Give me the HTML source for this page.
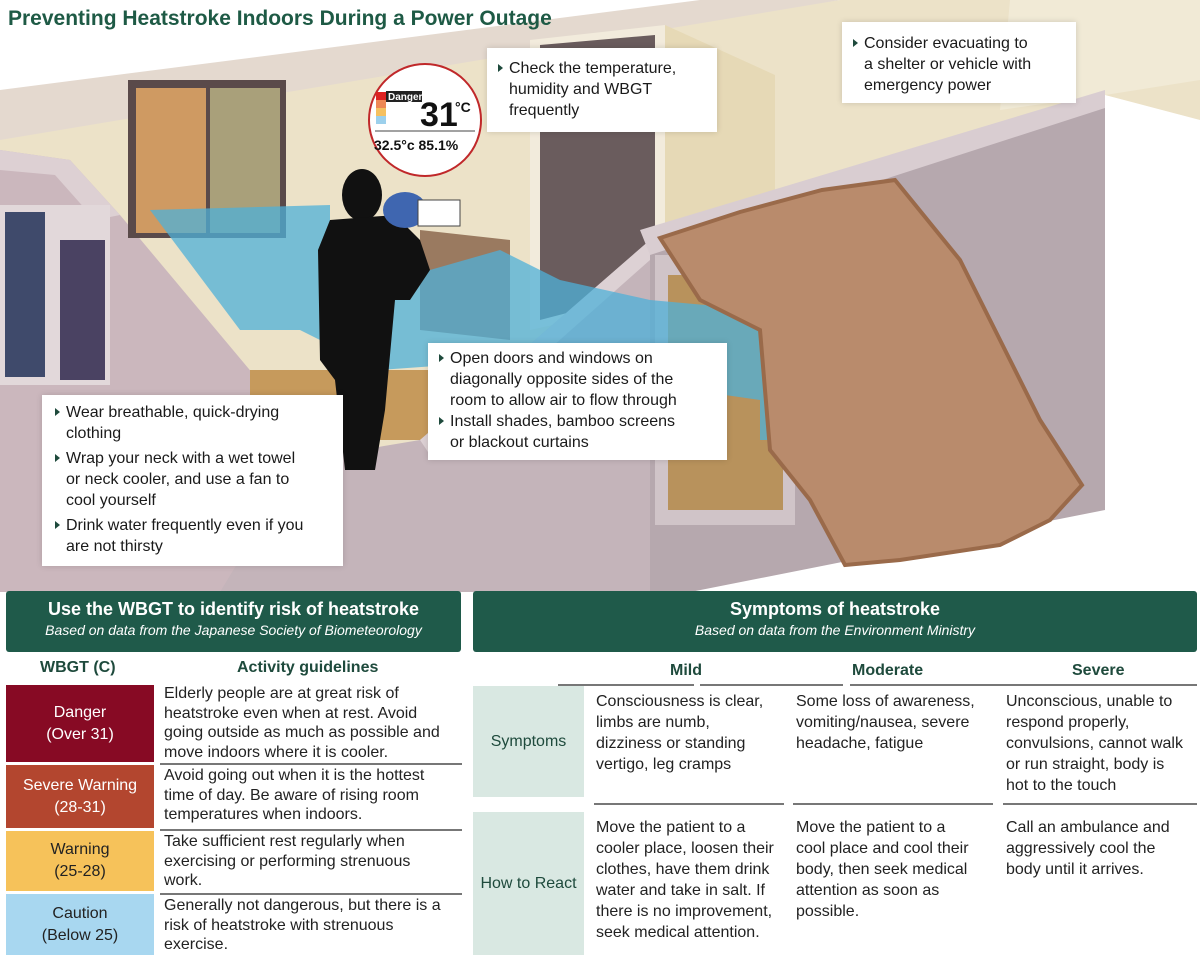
<!DOCTYPE html>
<html><head><meta charset="utf-8"><style>
*{margin:0;padding:0;box-sizing:border-box}
body{width:1200px;height:955px;position:relative;background:#fff;font-family:"Liberation Sans",Arial,sans-serif;overflow:hidden;color:#222}
.abs{position:absolute}
.box{position:absolute;background:#fff;font-size:16px;line-height:21px;color:#1a1a1a;box-shadow:0 0 6px rgba(0,0,0,.15);white-space:nowrap}
.b{position:relative;padding-left:14px}
.b:before{content:"";position:absolute;left:3px;top:6px;border-left:5px solid #1e4a3c;border-top:4px solid transparent;border-bottom:4px solid transparent}
.hdr{position:absolute;background:#1f5a4a;color:#fff;text-align:center;border-radius:3px}
.hdr h2{font-size:18px;font-weight:bold;margin-top:8px}
.hdr i{font-size:14px;display:block;margin-top:2px}
.ch{position:absolute;font-weight:bold;font-size:16px;color:#1e4a3c}
.cell{position:absolute;text-align:center;font-size:16px;line-height:22px;display:flex;align-items:center;justify-content:center}
.tx{position:absolute;font-size:16px;line-height:21px;color:#222;white-space:nowrap}
.ln{position:absolute;height:2px;background:#777}
</style></head><body>
<svg class="abs" style="left:0;top:0" width="1200" height="592" viewBox="0 0 1200 592">
<rect width="1200" height="592" fill="#fff"/>
<polygon points="0,120 840,0 1200,0 1200,120 1105,95 650,240 420,450 300,480 0,150" fill="#ece2c8"/>
<polygon points="0,90 700,0 840,0 0,140" fill="#e4d9cf"/>
<polygon points="1000,110 1105,95 1200,80 1200,0 1010,0" fill="#f1ead6"/>
<polygon points="0,150 70,160 120,215 300,430 360,592 0,592" fill="#cbb7bd"/>
<polygon points="0,150 70,160 120,215 95,220 55,175 0,170" fill="#ddd0d3"/>
<rect x="0" y="205" width="110" height="180" fill="#e2d8da"/>
<rect x="5" y="212" width="40" height="165" fill="#3f4a6b"/>
<rect x="60" y="240" width="45" height="140" fill="#4a4262"/>
<rect x="128" y="80" width="158" height="158" fill="#5a4a4a"/>
<rect x="136" y="88" width="70" height="145" fill="#cf9a62"/>
<rect x="210" y="88" width="70" height="145" fill="#a9a07a"/>
<rect x="250" y="370" width="180" height="70" fill="#c69a5c"/>
<polygon points="530,40 665,25 665,300 530,330" fill="#f2ebdc"/>
<polygon points="540,45 655,35 655,290 540,320" fill="#6a5c5d"/>
<polygon points="665,25 775,75 775,230 665,270" fill="#e6d9b6"/>
<polygon points="420,230 510,240 510,340 420,330" fill="#9a7a60"/>
<polygon points="300,460 420,440 650,240 650,592 220,592" fill="#c4b4ba"/>
<polygon points="420,440 650,240 650,260 430,455" fill="#ddd1d4"/>
<polygon points="650,240 1105,95 1105,510 650,600" fill="#b6a8ae"/>
<polygon points="640,230 1105,90 1105,108 650,255" fill="#d9cdd1"/>
<rect x="655" y="255" width="140" height="270" fill="#d0c4c8"/>
<rect x="668" y="275" width="115" height="235" fill="#b8925c"/>
<path d="M150,210 L330,205 L330,280 L430,270 L500,250 L560,280 L650,300 L760,310 L760,330 L920,330 L920,440 L760,440 L760,400 L620,380 L520,360 L380,370 L300,330 L240,330 Z" fill="#4fb0d8" opacity=".75"/>
<path d="M660,238 L740,212 L822,190 L895,180 L960,260 L1010,360 L1040,420 L1082,485 L1050,520 L1000,545 L900,560 L845,565 L810,500 L770,450 L760,330 L700,300 Z" fill="#b98b6c" stroke="#9a6a4a" stroke-width="4"/>
<ellipse cx="362" cy="195" rx="20" ry="26" fill="#111"/>
<path d="M330,220 L395,215 L420,240 L430,270 L410,300 L395,300 L385,410 L375,470 L345,470 L335,380 L320,360 L318,250 Z" fill="#111"/>
<ellipse cx="405" cy="210" rx="22" ry="18" fill="#3f66b0"/>
<rect x="418" y="200" width="42" height="26" fill="#fff" stroke="#444"/>
<circle cx="425" cy="120" r="56" fill="#fff" stroke="#c0282a" stroke-width="2"/>
<rect x="376" y="92" width="10" height="8" fill="#d22"/><rect x="376" y="100" width="10" height="8" fill="#e85"/><rect x="376" y="108" width="10" height="8" fill="#f5c060"/><rect x="376" y="116" width="10" height="8" fill="#9cd0ec"/>
<rect x="386" y="91" width="36" height="11" fill="#222"/>
<text x="388" y="100" font-size="10" font-weight="bold" fill="#fff">Danger</text>
<text x="420" y="126" font-size="34" font-weight="bold" fill="#111">31</text>
<text x="455" y="112" font-size="14" font-weight="bold" fill="#111">°C</text>
<line x1="375" y1="131" x2="475" y2="131" stroke="#444"/>
<text x="374" y="150" font-size="14" font-weight="bold" fill="#111">32.5°c  85.1%</text>
</svg>
<div class="abs" style="left:8px;top:7px;font-size:21px;font-weight:bold;color:#1e5a45">Preventing Heatstroke Indoors During a Power Outage</div>
<div class="box" style="left:487px;top:48px;width:230px;height:84px;padding:10px 8px"><div class="b">Check the temperature,<br>humidity and WBGT<br>frequently</div></div>
<div class="box" style="left:842px;top:22px;width:234px;height:81px;padding:11px 8px"><div class="b">Consider evacuating to<br>a shelter or vehicle with<br>emergency power</div></div>
<div class="box" style="left:42px;top:395px;width:301px;height:171px;padding:7px 10px"><div class="b">Wear breathable, quick-drying<br>clothing</div><div class="b" style="margin-top:4px">Wrap your neck with a wet towel<br>or neck cooler, and use a fan to<br>cool yourself</div><div class="b" style="margin-top:4px">Drink water frequently even if you<br>are not thirsty</div></div>
<div class="box" style="left:428px;top:343px;width:299px;height:117px;padding:5px 8px"><div class="b">Open doors and windows on<br>diagonally opposite sides of the<br>room to allow air to flow through</div><div class="b">Install shades, bamboo screens<br>or blackout curtains</div></div>

<div class="hdr" style="left:6px;top:591px;width:455px;height:61px"><h2>Use the WBGT to identify risk of heatstroke</h2><i>Based on data from the Japanese Society of Biometeorology</i></div>
<div class="ch" style="left:40px;top:659px">WBGT (C)</div>
<div class="ch" style="left:237px;top:659px">Activity guidelines</div>
<div class="cell" style="left:6px;top:685px;width:148px;height:77px;background:#870a24;color:#fff">Danger<br>(Over 31)</div>
<div class="cell" style="left:6px;top:765px;width:148px;height:63px;background:#b3462f;color:#fff">Severe Warning<br>(28-31)</div>
<div class="cell" style="left:6px;top:831px;width:148px;height:60px;background:#f6c25a;color:#222">Warning<br>(25-28)</div>
<div class="cell" style="left:6px;top:894px;width:148px;height:61px;background:#a8d7f0;color:#222">Caution<br>(Below 25)</div>
<div class="tx" style="left:164px;top:684px;line-height:19.5px">Elderly people are at great risk of<br>heatstroke even when at rest. Avoid<br>going outside as much as possible and<br>move indoors where it is cooler.</div>
<div class="ln" style="left:160px;top:763px;width:302px"></div>
<div class="tx" style="left:164px;top:766px;line-height:19.5px">Avoid going out when it is the hottest<br>time of day. Be aware of rising room<br>temperatures when indoors.</div>
<div class="ln" style="left:160px;top:829px;width:302px"></div>
<div class="tx" style="left:164px;top:832px;line-height:19.5px">Take sufficient rest regularly when<br>exercising or performing strenuous<br>work.</div>
<div class="ln" style="left:160px;top:893px;width:302px"></div>
<div class="tx" style="left:164px;top:896px;line-height:19.5px">Generally not dangerous, but there is a<br>risk of heatstroke with strenuous<br>exercise.</div>

<div class="hdr" style="left:473px;top:591px;width:724px;height:61px"><h2>Symptoms of heatstroke</h2><i>Based on data from the Environment Ministry</i></div>
<div class="ch" style="left:670px;top:662px">Mild</div>
<div class="ch" style="left:852px;top:662px">Moderate</div>
<div class="ch" style="left:1072px;top:662px">Severe</div>
<div class="ln" style="left:558px;top:684px;width:136px"></div>
<div class="ln" style="left:700px;top:684px;width:143px"></div>
<div class="ln" style="left:850px;top:684px;width:347px"></div>
<div class="cell" style="left:473px;top:686px;width:111px;height:111px;background:#d9e8e2;color:#1e4a3c">Symptoms</div>
<div class="cell" style="left:473px;top:812px;width:111px;height:143px;background:#d9e8e2;color:#1e4a3c">How to React</div>
<div class="tx" style="left:596px;top:691px">Consciousness is clear,<br>limbs are numb,<br>dizziness or standing<br>vertigo, leg cramps</div>
<div class="tx" style="left:796px;top:691px">Some loss of awareness,<br>vomiting/nausea, severe<br>headache, fatigue</div>
<div class="tx" style="left:1006px;top:691px">Unconscious, unable to<br>respond properly,<br>convulsions, cannot walk<br>or run straight, body is<br>hot to the touch</div>
<div class="ln" style="left:594px;top:803px;width:190px"></div>
<div class="ln" style="left:793px;top:803px;width:200px"></div>
<div class="ln" style="left:1003px;top:803px;width:194px"></div>
<div class="tx" style="left:596px;top:817px">Move the patient to a<br>cooler place, loosen their<br>clothes, have them drink<br>water and take in salt. If<br>there is no improvement,<br>seek medical attention.</div>
<div class="tx" style="left:796px;top:817px">Move the patient to a<br>cool place and cool their<br>body, then seek medical<br>attention as soon as<br>possible.</div>
<div class="tx" style="left:1006px;top:817px">Call an ambulance and<br>aggressively cool the<br>body until it arrives.</div>
</body></html>
